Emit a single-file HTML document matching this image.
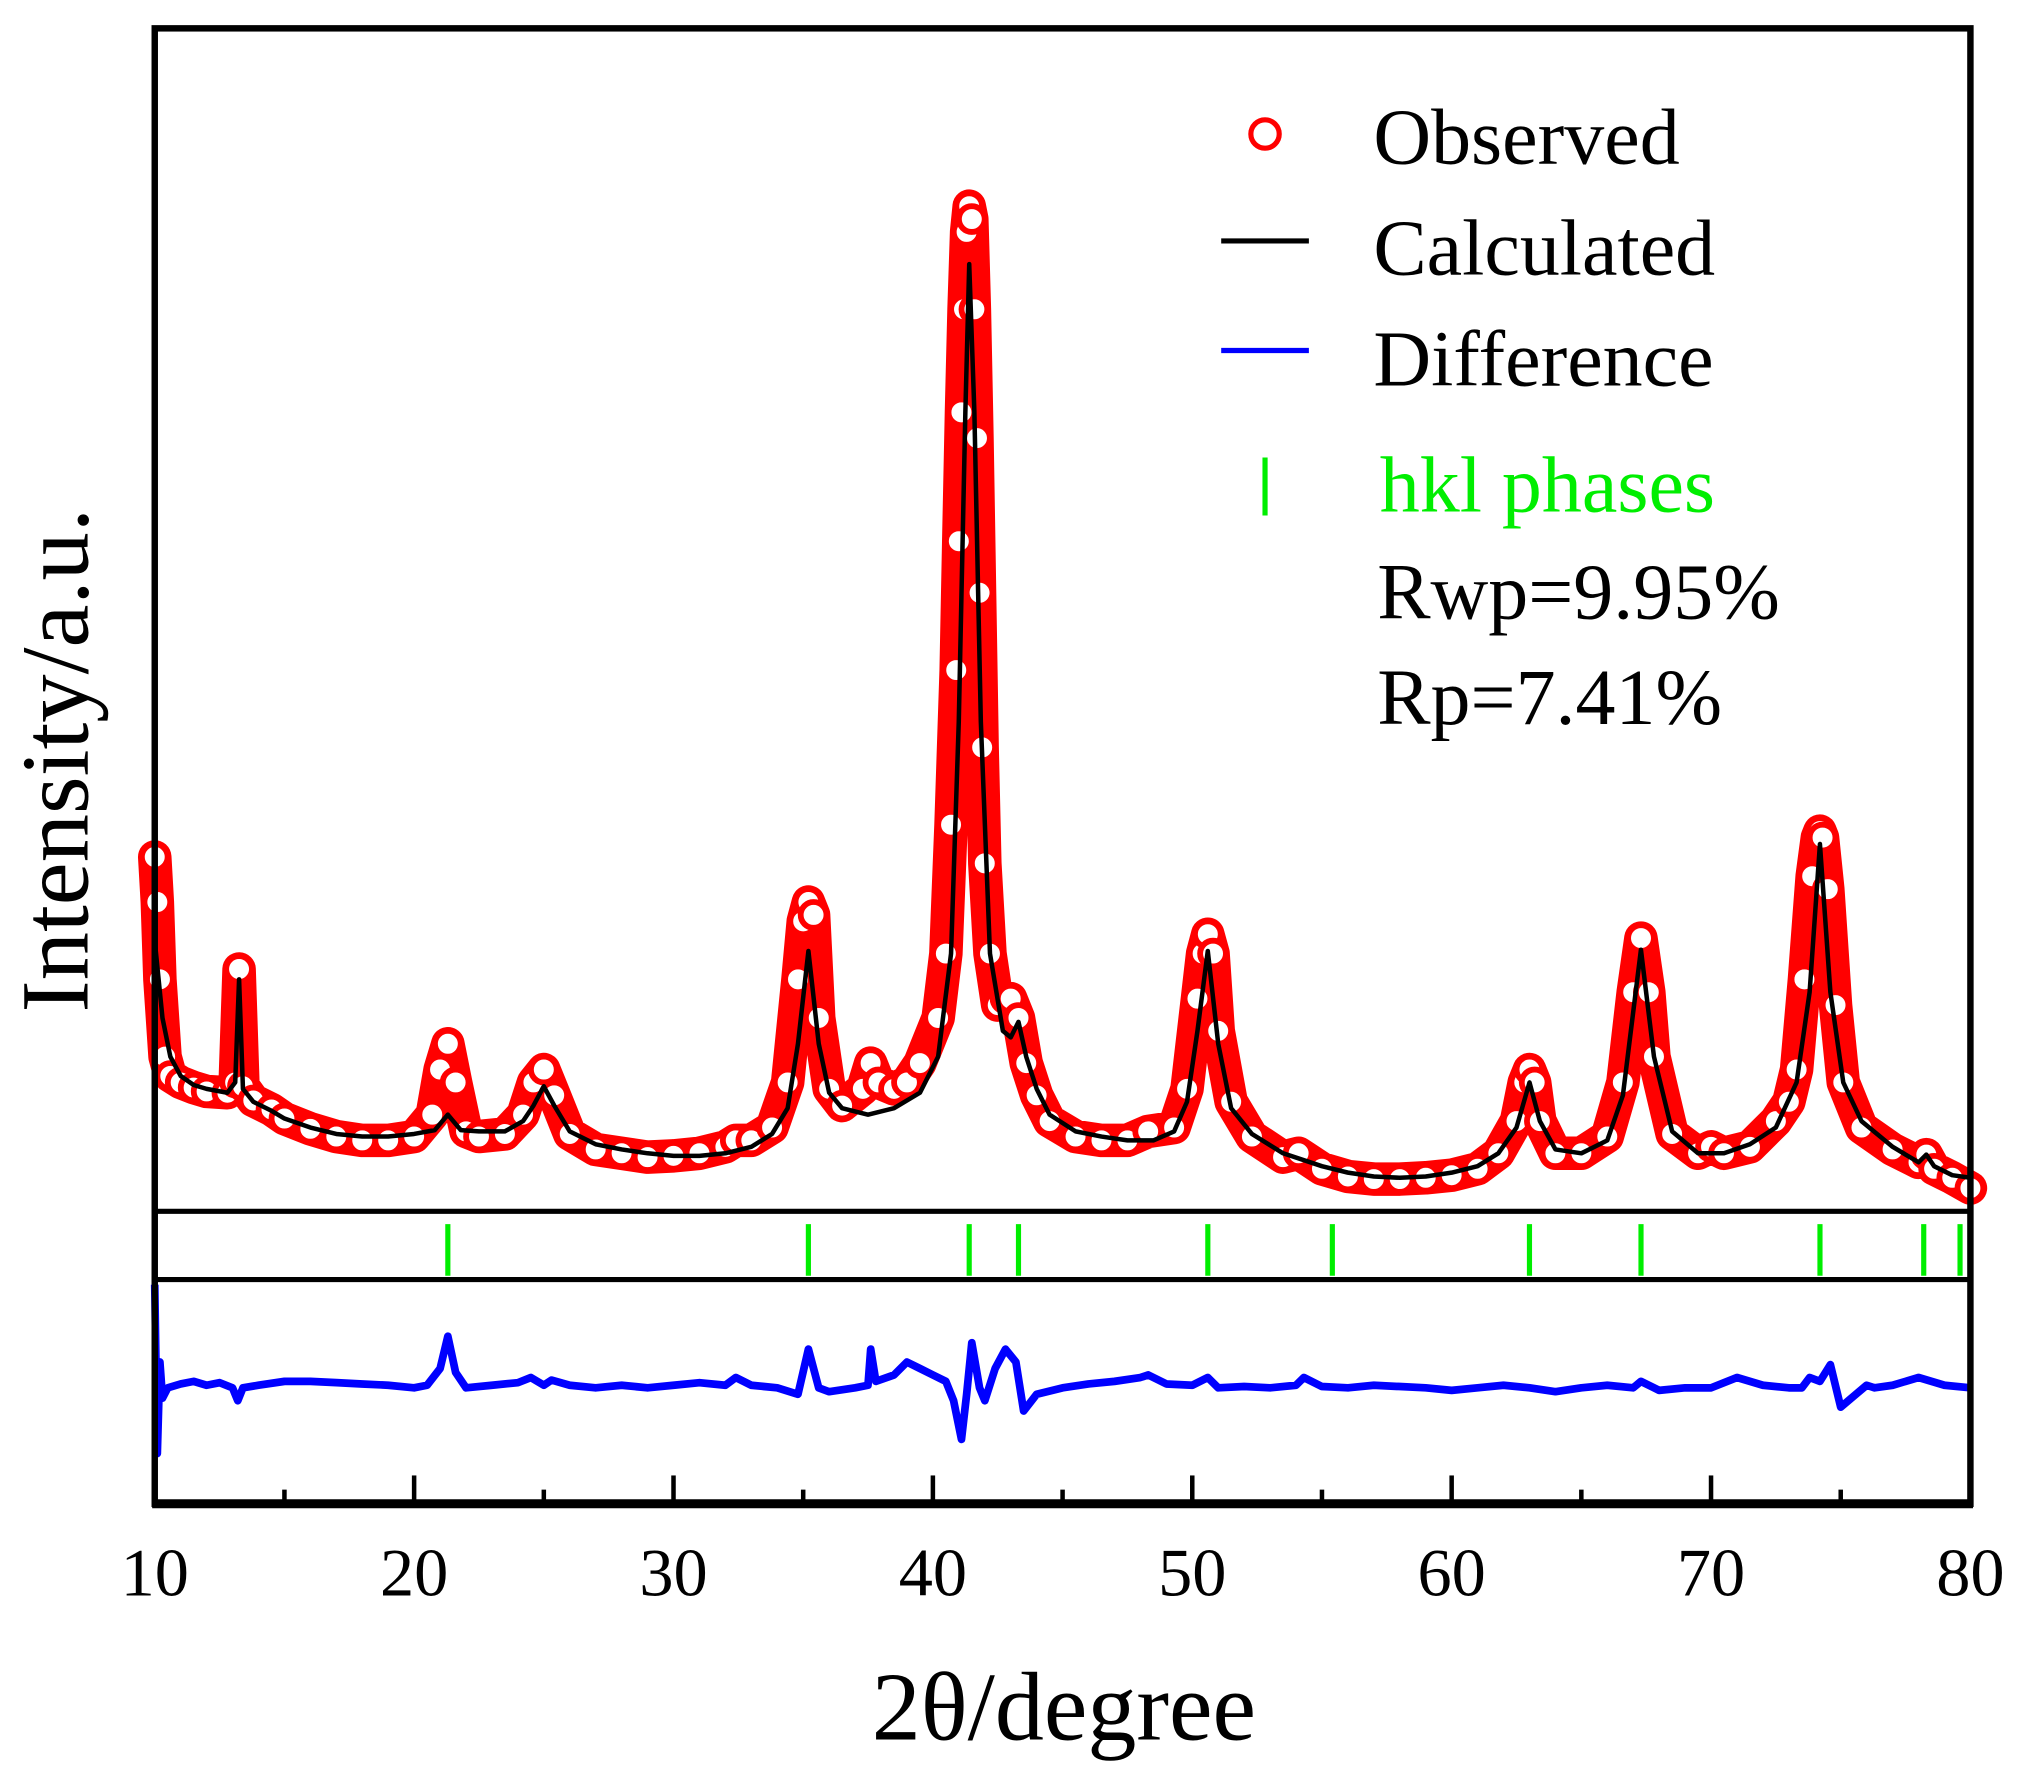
<!DOCTYPE html>
<html><head><meta charset="utf-8"><style>
html,body{margin:0;padding:0;background:#fff;}
svg{display:block;}
text{font-family:"Liberation Serif",serif;}
</style></head><body>
<svg id="chart" width="2022" height="1786" viewBox="0 0 1568 1386" preserveAspectRatio="none" xmlns="http://www.w3.org/2000/svg">
<g id="plot"></g>
</svg>
<script>
// ---- data ----
const calcX = [10,10.3,10.6,11,11.5,12,12.8,13.1,13.25,13.4,13.8,14.5,15,16,17,18,19,20,20.8,21.3,21.8,22.5,23.5,24.2,24.6,25,25.4,26,27,28,29,30,31,32,33,33.8,34.4,34.8,35.2,35.6,36,36.5,37.5,38.5,39.5,40.2,40.7,41,41.25,41.4,41.6,41.85,42.2,42.7,43,43.3,43.6,44,44.5,45.5,46.5,47.5,48.5,49.3,49.8,50.2,50.6,51,51.5,52.3,53.5,55,56,57,58,59,60,61,61.8,62.5,63,63.4,64,65,66,66.6,67.3,67.8,68.5,69.5,70.5,71.5,72.5,73.3,73.8,74.2,74.6,75.1,75.8,77,78,78.3,78.6,79.3,80];
const calcY = [210,150,120,105,98,95,92,100,180,95,85,78,72,65,60,58,58,60,63,75,63,62,62,70,82,97,82,62,52,48,45,43,43,45,50,60,80,130,202,130,92,80,75,80,92,120,200,380,620,735,620,380,200,140,135,147,120,95,75,62,58,55,55,62,85,140,202,130,80,60,45,35,30,27,26,27,30,35,45,65,100,70,48,45,55,90,203,120,62,45,45,52,65,100,170,285,170,100,70,50,38,44,35,28,26];
const obsX = [10,10.1,10.2,10.4,10.6,11,11.5,12,12.8,13.1,13.25,13.4,13.8,14.5,15,16,17,18,19,20,20.7,21.0,21.3,21.6,22,22.5,23.5,24.2,24.6,25,25.4,26,27,28,29,30,31,32,32.4,33,33.8,34.4,34.8,35.0,35.2,35.4,35.6,36,36.5,37.3,37.6,37.9,38.5,39,39.5,40.2,40.5,40.7,40.9,41.0,41.1,41.2,41.3,41.4,41.5,41.6,41.7,41.8,41.9,42.0,42.2,42.5,42.8,43,43.3,43.6,44,44.5,45.5,46.5,47.5,48.3,49.3,49.8,50.2,50.4,50.6,50.8,51,51.5,52.3,53.5,54.1,55,56,57,58,59,60,61,61.8,62.5,62.8,63,63.2,63.4,64,65,66,66.6,67.0,67.3,67.6,67.8,68.5,69.5,70,70.5,71.5,72.5,73,73.3,73.6,73.9,74.1,74.2,74.3,74.5,74.8,75.1,75.8,77,78,78.3,78.6,79.3,80];
const obsY = [275,240,180,120,105,100,96,93,92,100,188,97,86,79,72,64,58,55,55,58,75,110,130,100,62,58,60,75,100,110,90,60,48,45,42,43,45,50,55,55,65,100,180,225,240,230,150,95,82,95,115,100,95,100,115,150,200,300,420,520,620,700,760,780,770,700,600,480,360,270,200,160,165,165,150,115,90,70,58,55,55,62,65,95,165,200,215,200,140,85,58,42,45,33,27,25,25,26,28,33,45,70,100,110,100,70,45,45,58,100,170,212,170,120,60,45,50,45,50,70,85,110,180,260,290,295,290,250,160,100,65,48,38,44,33,26,18];
const diffX = [10,10.1,10.2,10.3,10.5,11,11.5,12,12.5,13,13.2,13.4,14,15,16,17,18,19,20,20.5,21,21.3,21.6,22,23,24,24.5,25,25.3,26,27,28,29,30,31,32,32.4,33,34,34.8,35.2,35.6,36,37,37.5,37.6,37.8,38.5,39,39.5,40,40.5,40.8,41.1,41.3,41.5,41.8,42,42.4,42.8,43.2,43.5,44,45,46,47,48,48.3,49,50,50.6,51,52,53,54,54.3,55,56,57,58,59,60,61,62,63,64,65,66,67,67.3,68,69,70,71,72,73,73.5,73.8,74.2,74.6,75,76,76.3,77,78,79,80];
const diffY = [80,-51,20,-8,0,3,5,2,4,0,-10,0,2,5,5,4,3,2,0,2,15,40,12,0,2,4,8,2,6,2,0,2,0,2,4,2,8,2,0,-5,30,0,-3,0,2,30,5,10,20,15,10,5,-10,-40,-5,35,0,-10,15,30,20,-18,-5,0,3,5,8,10,3,2,8,0,1,0,2,8,1,0,2,1,0,-2,0,2,0,-3,0,2,0,5,-2,0,0,8,2,0,0,8,5,18,-15,2,0,2,8,2,0,1,0,0];
const hklX = [21.3,35.2,41.4,43.3,50.6,55.4,63,67.3,74.2,78.2,79.6];
const xTicks = [10,20,30,40,50,60,70,80];
const xTickLabels = ["10","20","30","40","50","60","70","80"];
const xMinor = [15,25,35,45,55,65,75];

// ---- scales (displayed units; viewBox 1568x1386) ----
const L=120,R=1528,TOP=22,SEP1=940,SEP2=993,BOT=1167;
const xs = v => L + (v-10)/(80-10)*(R-L);
const ym = v => SEP1 - v;
const DIFF0 = 1077;
const yd = v => DIFF0 - v;
const NS="http://www.w3.org/2000/svg";
const plot=document.getElementById('plot');
function mk(tag,attrs,parent){const e=document.createElementNS(NS,tag);for(const k in attrs)e.setAttribute(k,attrs[k]);(parent||plot).appendChild(e);return e;}

let d='';obsX.forEach((x,i)=>{d+=(i?'L':'M')+xs(x).toFixed(1)+' '+ym(obsY[i]).toFixed(1);});
const band=mk('path',{d:d,fill:'none',stroke:'#ff0000','stroke-width':26,'stroke-linejoin':'round','stroke-linecap':'round'});


obsX.forEach((x,i)=>{
  const c=mk('circle',{cx:xs(x),cy:ym(obsY[i]),r:10,fill:'#fff',stroke:'#ff0000','stroke-width':4.5});
  
  
});
d='';calcX.forEach((x,i)=>{d+=(i?'L':'M')+xs(x).toFixed(1)+' '+ym(calcY[i]).toFixed(1);});
const calc=mk('path',{d:d,fill:'none',stroke:'#000','stroke-width':3.5,'stroke-linejoin':'round'});


d='';diffX.forEach((x,i)=>{d+=(i?'L':'M')+xs(x).toFixed(1)+' '+yd(diffY[i]).toFixed(1);});
const diff=mk('path',{d:d,fill:'none',stroke:'#0000ff','stroke-width':6,'stroke-linejoin':'round'});


hklX.forEach(x=>{
  const t=mk('line',{x1:xs(x),x2:xs(x),y1:950,y2:990,stroke:'#00ee00','stroke-width':4});
  
  
});
const fr=mk('rect',{x:L,y:TOP,width:R-L,height:BOT-TOP,fill:'none',stroke:'#000','stroke-width':5});


const ba=mk('line',{x1:L-2,x2:R+2,y1:BOT,y2:BOT,stroke:'#000','stroke-width':7});


[SEP1,SEP2].forEach(y=>{
  const s=mk('line',{x1:L,x2:R,y1:y,y2:y,stroke:'#000','stroke-width':4});
  
  
});
xTicks.forEach((v,i)=>{
  const t=mk('line',{x1:xs(v),x2:xs(v),y1:BOT,y2:BOT-22,stroke:'#000','stroke-width':3.5});
  
  
  const lb=mk('text',{x:xs(v),y:1238,'font-size':53,'text-anchor':'middle',fill:'#000'});
  lb.textContent=xTickLabels[i];
  
  
});
xMinor.forEach(v=>{
  const t=mk('line',{x1:xs(v),x2:xs(v),y1:BOT,y2:BOT-11,stroke:'#000','stroke-width':3.5});
  
  
});
</script>
<svg style="position:absolute;left:0;top:0" width="2022" height="1786" viewBox="0 0 1568 1386" preserveAspectRatio="none">
<text x="825" y="1350" font-size="76" text-anchor="middle" font-family="Liberation Serif, serif">2θ/degree</text>
<text transform="translate(68,590) rotate(-90)" font-size="75" text-anchor="middle" font-family="Liberation Serif, serif">Intensity/a.u.</text>
<g font-family="Liberation Serif, serif" font-size="62">
<circle cx="981" cy="104" r="11" fill="#fff" stroke="#ff0000" stroke-width="4"/>
<text x="1065" y="127">Observed</text>
<line x1="947" x2="1015" y1="187" y2="187" stroke="#000" stroke-width="4"/>
<text x="1065" y="213">Calculated</text>
<line x1="947" x2="1015" y1="272" y2="272" stroke="#0000ff" stroke-width="4"/>
<text x="1065" y="299">Difference</text>
<line x1="981" x2="981" y1="355" y2="400" stroke="#00ee00" stroke-width="4"/>
<text x="1070" y="397" fill="#00ee00">hkl phases</text>
<text x="1068" y="480">Rwp=9.95%</text>
<text x="1068" y="562">Rp=7.41%</text>
</g>
</svg>
</body></html>
